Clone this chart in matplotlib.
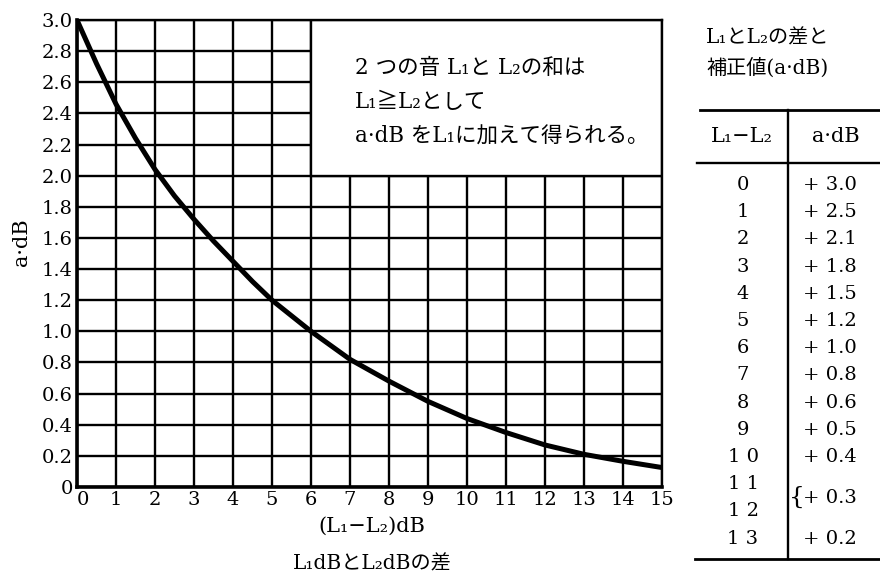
import matplotlib.pyplot as plt
from matplotlib.patches import Rectangle

plt.rcParams['font.family'] = ['DejaVu Serif', 'Noto Sans CJK JP']

# curve: level difference (dB) -> correction a (dB)
diff = [0, 0.5, 1, 1.5, 2, 2.5, 3, 3.5, 4, 4.5, 5, 5.5, 6, 6.5, 7, 7.5, 8, 9, 10, 11, 12, 13, 14, 15]
corr = [3.0, 2.72, 2.46, 2.24, 2.04, 1.87, 1.72, 1.58, 1.45, 1.32, 1.2, 1.1, 1.0, 0.91, 0.82,
        0.75, 0.68, 0.55, 0.44, 0.35, 0.27, 0.21, 0.165, 0.125]

x_ticks = list(range(16))
y_ticks = [0, 0.2, 0.4, 0.6, 0.8, 1.0, 1.2, 1.4, 1.6, 1.8, 2.0, 2.2, 2.4, 2.6, 2.8, 3.0]
y_labels = ['0'] + ['%.1f' % v for v in y_ticks[1:]]

# table on the right
table_diff = ['0', '1', '2', '3', '4', '5', '6', '7', '8', '9', '1 0', '1 1', '1 2', '1 3']
table_corr = ['+ 3.0', '+ 2.5', '+ 2.1', '+ 1.8', '+ 1.5', '+ 1.2', '+ 1.0', '+ 0.8', '+ 0.6',
              '+ 0.5', '+ 0.4', '+ 0.3', None, '+ 0.2']

note_lines = ['2 つの音 L₁と L₂の和は', 'L₁≧L₂として', 'a·dB をL₁に加えて得られる。']

fig = plt.figure(figsize=(8.8, 5.82), dpi=100)
ax = fig.add_axes([77 / 880, 1 - 487 / 582, 585 / 880, 467 / 582])

ax.plot(diff, corr, color='black', lw=3.6, zorder=3, solid_joinstyle='round')
ax.set_xlim(0, 15)
ax.set_ylim(0, 3.0)
ax.set_xticks(x_ticks)
ax.set_yticks(y_ticks)
ax.set_yticklabels(y_labels)
ax.tick_params(length=0, labelsize=14, pad=3)
ax.get_xticklabels()[0].set_ha('left')
ax.grid(True, color='black', lw=1.7)
ax.set_axisbelow(True)
for s in ax.spines.values():
    s.set_linewidth(1.7)
ax.spines['left'].set_linewidth(2.6)
ax.spines['bottom'].set_linewidth(2.6)

# white note box covering the upper right part of the grid
ax.add_patch(Rectangle((6, 2.0), 9, 1.0, facecolor='white', edgecolor='black', lw=1.7, zorder=2))

# overlay in pixel units for the remaining text and the table
ov = fig.add_axes([0, 0, 1, 1])
ov.set_xlim(0, 880)
ov.set_ylim(582, 0)
ov.axis('off')

for i, line in enumerate(note_lines):
    ov.text(355, 68 + i * 34.5, line, fontsize=15.5, ha='left', va='center')

ov.text(22, 242, 'a·dB', fontsize=15, rotation=90, ha='center', va='center')
ov.text(372, 526, '(L₁−L₂)dB', fontsize=15, ha='center', va='center')
ov.text(372, 564, 'L₁dBとL₂dBの差', fontsize=14.5, ha='center', va='center')

ov.text(706, 38, 'L₁とL₂の差と', fontsize=14.5, ha='left', va='center')
ov.text(706, 68, '補正値(a·dB)', fontsize=14.5, ha='left', va='center')

ov.plot([700, 880], [110, 110], color='black', lw=2)
ov.plot([697, 880], [163, 163], color='black', lw=1.7)
ov.plot([695, 880], [559, 559], color='black', lw=2)
ov.plot([788, 788], [110, 559], color='black', lw=1.7)
ov.text(742, 137, 'L₁−L₂', fontsize=15, ha='center', va='center')
ov.text(836, 137, 'a·dB', fontsize=15, ha='center', va='center')

row0, step = 185, 27.2
for i, d in enumerate(table_diff):
    ov.text(743, row0 + i * step, d, fontsize=14, ha='center', va='center')
for i, c in enumerate(table_corr):
    if c is None:
        continue
    y = row0 + i * step
    if i + 1 < len(table_corr) and table_corr[i + 1] is None:
        y += step / 2
        ov.text(797, y, '{', fontsize=18, ha='center', va='center')
    ov.text(803, y, c, fontsize=14, ha='left', va='center')

fig.savefig('out.png', dpi=100)
